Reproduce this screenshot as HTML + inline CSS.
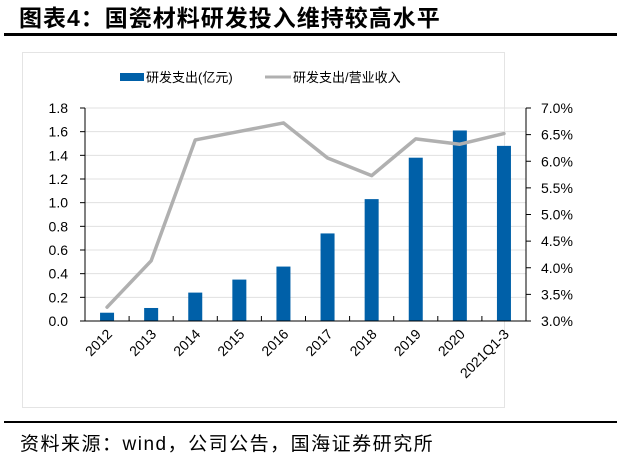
<!DOCTYPE html>
<html><head><meta charset="utf-8"><style>
body{margin:0;background:#fff;width:617px;height:459px;overflow:hidden;font-family:"Liberation Sans","Noto Sans CJK SC",sans-serif}
</style></head><body>
<svg width="617" height="459" xmlns="http://www.w3.org/2000/svg">
<text x="19" y="26" font-size="23" font-weight="bold" letter-spacing="1" font-family="Liberation Sans,Noto Sans CJK SC,sans-serif">图表4：国瓷材料研发投入维持较高水平</text>
<rect x="4" y="33" width="613" height="3" fill="#000"/>
<rect x="22.5" y="52.5" width="482" height="355" fill="#fff" stroke="#e4e4e4"/>
<g id="legend">
<rect x="120" y="73" width="24" height="8" fill="#0060a8"/>
<text x="146" y="82" font-size="13">研发支出(亿元)</text>
<line x1="265" y1="77" x2="291" y2="77" stroke="#b0b0b0" stroke-width="3"/>
<text x="293" y="82" font-size="13">研发支出/营业收入</text>
</g>
<g id="plot"></g>
<rect x="4" y="421" width="613" height="2" fill="#000"/>
<text x="20" y="450" font-size="19" letter-spacing="1.5">资料来源：wind，公司公告，国海证券研究所</text>
</svg>
<script>
const categories=["2012","2013","2014","2015","2016","2017","2018","2019","2020","2021Q1-3"];
const rdExpense=[0.07,0.11,0.24,0.35,0.46,0.74,1.03,1.38,1.61,1.48];
const rdRatio=[3.26,4.13,6.40,6.56,6.72,6.06,5.73,6.42,6.32,6.52];
const leftTicks=[0,0.2,0.4,0.6,0.8,1.0,1.2,1.4,1.6,1.8];
const rightTicks=[3.0,3.5,4.0,4.5,5.0,5.5,6.0,6.5,7.0];
const NS="http://www.w3.org/2000/svg";
const g=document.getElementById('plot');
const L=85,R=526,T=108,B=321;
const bw=(R-L)/categories.length;
const yL=v=>B-(v-0)/(1.8-0)*(B-T);
const yR=v=>B-(v-3)/(7-3)*(B-T);
const xC=i=>L+bw*(i+0.5);
function mk(tag,attrs){const e=document.createElementNS(NS,tag);for(const k in attrs)e.setAttribute(k,attrs[k]);g.appendChild(e);return e;}
leftTicks.forEach(v=>{
 if(v>0){const l=mk('line',{x1:L,x2:R,y1:yL(v),y2:yL(v),stroke:'#e0e0e0','stroke-width':1});
 
 }
 const t=mk('line',{x1:L-5,x2:L,y1:yL(v),y2:yL(v),stroke:'#000'});
 
 
 const tx=mk('text',{x:L-17,y:yL(v)+5,'font-size':14,'text-anchor':'end'});tx.textContent=v.toFixed(1);
 
 
});
rightTicks.forEach(v=>{
 const t=mk('line',{x1:R,x2:R+5,y1:yR(v),y2:yR(v),stroke:'#000'});
 
 
 const tx=mk('text',{x:R+15,y:yR(v)+5,'font-size':14});tx.textContent=v.toFixed(1)+'%';
 
 
});
rdExpense.forEach((v,i)=>{
 const r=mk('rect',{x:xC(i)-7,y:yL(v),width:14,height:B-yL(v),fill:'#0060a8'});
 
 
});
const pts=rdRatio.map((v,i)=>xC(i)+','+yR(v)).join(' ');
const pl=mk('polyline',{points:pts,fill:'none',stroke:'#b0b0b0','stroke-width':3.5,'stroke-linejoin':'round','stroke-linecap':'round'});


const ax1=mk('line',{x1:L,x2:L,y1:T,y2:B,stroke:'#000'});


const ax2=mk('line',{x1:R,x2:R,y1:T,y2:B,stroke:'#000'});


const ax3=mk('line',{x1:L,x2:R,y1:B,y2:B,stroke:'#000'});


categories.forEach((c,i)=>{
 if(i>0){const t=mk('line',{x1:L+bw*i,x2:L+bw*i,y1:B-5,y2:B,stroke:'#000'});
 
 }
 const x=xC(i)+6,y=B+14;
 const tx=mk('text',{x:x,y:y,'font-size':14,'text-anchor':'end',transform:'rotate(-45 '+x+' '+y+')'});tx.textContent=c;
 
 
});
</script>
</body></html>
